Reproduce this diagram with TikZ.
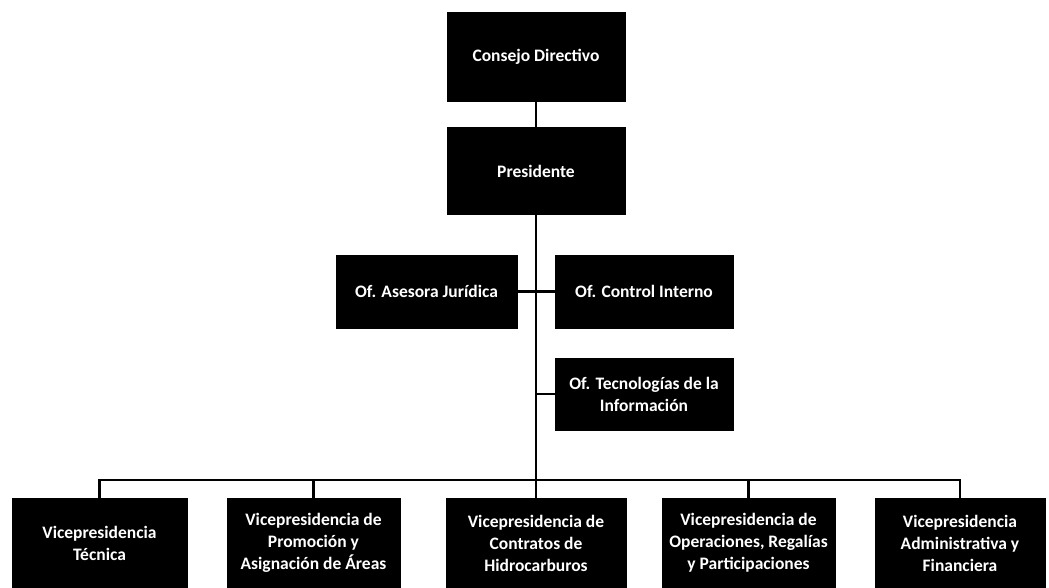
\documentclass[tikz,border=0pt]{standalone}
\usepackage{fontspec}
\setmainfont{Carlito}
\begin{document}
\begin{tikzpicture}[x=1pt,y=-1pt,
  box/.style={fill=black,draw=black,text=white,font=\bfseries\fontsize{17.5}{22}\selectfont,align=center,inner sep=2pt},
  conn/.style={draw=black,line width=2.8pt}]
\useasboundingbox (0,0) rectangle (1049,588);
\node[box,minimum width=178pt,minimum height=89pt] (cd) at (536,57) {Consejo Directivo};
\node[box,minimum width=178pt,minimum height=87pt] (pr) at (536,171) {Presidente};
\node[box,minimum width=181pt,minimum height=73pt] (aj) at (426.5,291.5) {Of. Asesora Jurídica};
\node[box,minimum width=178pt,minimum height=73pt] (ci) at (644,291.5) {Of. Control Interno};
\node[box,minimum width=178pt,minimum height=72pt] (ti) at (644,394) {Of. Tecnologías de la\\Información};
\node[box,minimum width=175pt,minimum height=90pt] (v1) at (99.5,543) {Vicepresidencia\\Técnica};
\node[box,minimum width=173pt,minimum height=90pt] (v2) at (313.5,543) {Vicepresidencia de\\Promoción y\\Asignación de Áreas};
\node[box,minimum width=180pt,minimum height=90pt] (v3) at (536,543) {Vicepresidencia de\\Contratos de\\Hidrocarburos};
\node[box,minimum width=173pt,minimum height=90pt] (v4) at (748.5,543) {Vicepresidencia de\\Operaciones, Regalías\\y Participaciones};
\node[box,minimum width=170pt,minimum height=90pt] (v5) at (960,543) {Vicepresidencia\\Administrativa y\\Financiera};
\coordinate (bus) at (536,480);
\draw[conn] (cd.south) -- (pr.north);
\draw[conn] (pr.south) -- (v3.north);
\draw[conn] (aj.east) -- (ci.west);
\draw[conn] (ti.west) -- (ti.west -| pr.south);
\draw[conn] (v1.north) |- (bus) -| (v5.north);
\draw[conn] (v2.north) -- (v2.north |- bus);
\draw[conn] (v4.north) -- (v4.north |- bus);
\end{tikzpicture}
\end{document}
